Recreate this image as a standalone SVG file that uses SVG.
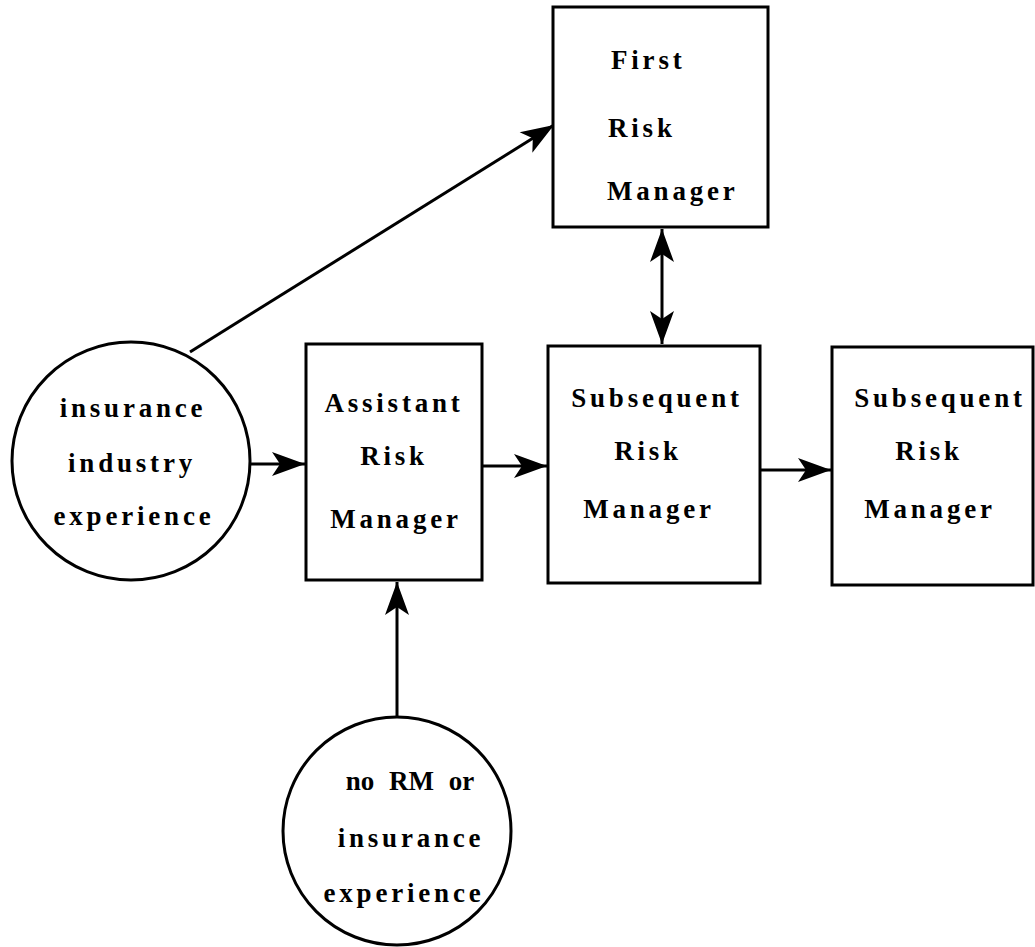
<svg xmlns="http://www.w3.org/2000/svg" width="1035" height="947" viewBox="0 0 1035 947">
<style>
.box{fill:#fff;stroke:#000;stroke-width:3}
.t{font-family:"Liberation Serif","Times New Roman",serif;font-weight:bold;font-size:27px;letter-spacing:3.8px;fill:#000;text-anchor:middle}
.e{stroke:#000;stroke-width:3;fill:none}
</style>
<defs>
<marker id="ah" markerUnits="userSpaceOnUse" markerWidth="40" markerHeight="30" viewBox="-36 -15 38 30" refX="0" refY="0" orient="auto-start-reverse">
<path d="M0,0 L-33,-12 L-25,0 L-33,12 Z" fill="#000"/>
</marker>
</defs>
<g id="connectors">
<line class="e" x1="190" y1="352" x2="554" y2="125" marker-end="url(#ah)"/>
<line class="e" x1="251" y1="464" x2="305" y2="464" marker-end="url(#ah)"/>
<line class="e" x1="482" y1="466" x2="547" y2="466" marker-end="url(#ah)"/>
<line class="e" x1="760" y1="470" x2="831" y2="470" marker-end="url(#ah)"/>
<line class="e" x1="662" y1="229" x2="662" y2="344" marker-start="url(#ah)" marker-end="url(#ah)"/>
<line class="e" x1="397" y1="717" x2="397" y2="582" marker-end="url(#ah)"/>
</g>
<g id="first">
<rect class="box" x="553" y="7" width="215" height="220"/>
<text class="t" x="611" y="69" style="text-anchor:start">First</text>
<text class="t" x="608" y="137" style="text-anchor:start">Risk</text>
<text class="t" x="607" y="200" style="text-anchor:start">Manager</text>
</g>
<g id="insurance-exp">
<circle class="box" cx="131" cy="461" r="119"/>
<text class="t" x="133" y="417">insurance</text>
<text class="t" x="132" y="472">industry</text>
<text class="t" x="134" y="525">experience</text>
</g>
<g id="assistant">
<rect class="box" x="306" y="344" width="176" height="236"/>
<text class="t" x="394" y="412">Assistant</text>
<text class="t" x="394" y="465">Risk</text>
<text class="t" x="396" y="528">Manager</text>
</g>
<g id="subsequent1">
<rect class="box" x="548" y="346" width="212" height="237"/>
<text class="t" x="657" y="407">Subsequent</text>
<text class="t" x="648" y="460">Risk</text>
<text class="t" x="649" y="518">Manager</text>
</g>
<g id="subsequent2">
<rect class="box" x="832" y="347" width="201" height="238"/>
<text class="t" x="940" y="407">Subsequent</text>
<text class="t" x="929" y="460">Risk</text>
<text class="t" x="930" y="518">Manager</text>
</g>
<g id="no-rm">
<circle class="box" cx="397" cy="831" r="114"/>
<text class="t" x="410" y="790" style="letter-spacing:0;word-spacing:8px">no RM or</text>
<text class="t" x="411" y="847">insurance</text>
<text class="t" x="404" y="902">experience</text>
</g>
</svg>
